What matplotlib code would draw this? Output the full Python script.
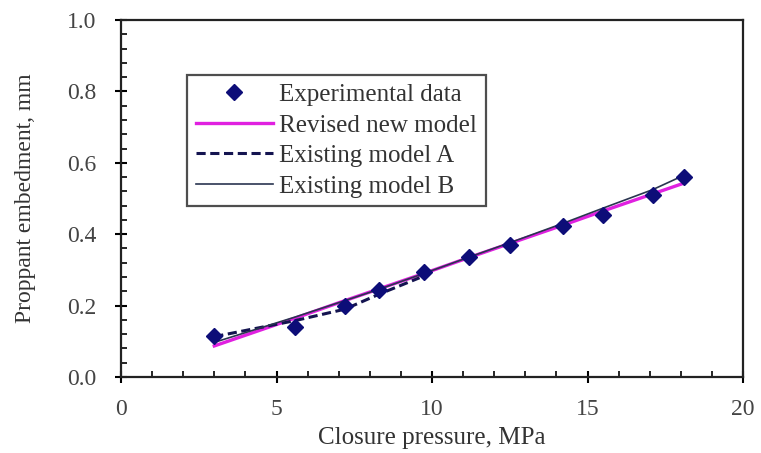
import matplotlib
matplotlib.use("Agg")
import matplotlib.pyplot as plt
from matplotlib.ticker import MultipleLocator

plt.rcParams['font.family'] = ['Liberation Serif', 'DejaVu Serif']

# measured embedment vs closure pressure
pressure = [3.0, 5.6, 7.2, 8.3, 9.74, 11.2, 12.5, 14.2, 15.5, 17.1, 18.1]
embed_exp = [0.115, 0.14, 0.199, 0.244, 0.294, 0.336, 0.37, 0.423, 0.454, 0.51, 0.56]

# model predictions at the same pressures
embed_revised = [0.087, 0.165, 0.214, 0.247, 0.29, 0.335, 0.374, 0.425, 0.465, 0.513, 0.543]
embed_model_b = [0.097, 0.168, 0.214, 0.246, 0.29, 0.336, 0.376, 0.43, 0.473, 0.525, 0.565]

pressure_a = [3.0, 5.6, 7.2, 8.3, 9.6]
embed_model_a = [0.113, 0.158, 0.19, 0.232, 0.278]

fig = plt.figure(figsize=(7.61, 4.53), dpi=100)
ax = fig.add_axes([121 / 761, 1 - 377 / 453, 622 / 761, 357 / 453])

ax.plot(pressure, embed_revised, color='#e020e0', lw=2.4, label='Revised new model', zorder=2)
ax.plot(pressure_a, embed_model_a, color='#141450', lw=2.2, ls=(0, (3, 1.5)),
        label='Existing model A', zorder=3)
ax.plot(pressure, embed_model_b, color='#2a3550', lw=1.2, label='Existing model B', zorder=3)
ax.plot(pressure, embed_exp, ls='none', marker='D', ms=8, color='#0d0d78',
        label='Experimental data', zorder=4)

ax.set_xlim(0, 20)
ax.set_ylim(0, 1.0)
ax.xaxis.set_major_locator(MultipleLocator(5))
ax.xaxis.set_minor_locator(MultipleLocator(1))
ax.yaxis.set_major_locator(MultipleLocator(0.2))
ax.yaxis.set_minor_locator(MultipleLocator(0.04))
ax.yaxis.set_major_formatter(plt.FormatStrFormatter('%.1f'))

ax.tick_params(which='major', direction='inout', length=8, width=1.5,
               labelsize=17, labelcolor='#444444')
ax.tick_params(axis='x', which='major', pad=12)
ax.tick_params(axis='y', which='major', pad=14)
ax.tick_params(which='minor', direction='in', length=4, width=1.2)
ax.tick_params(top=False, right=False, which='both')
for s in ax.spines.values():
    s.set_linewidth(1.6)
    s.set_color('#222222')

ax.set_xlabel('Closure pressure, MPa', fontsize=18, color='#333333', labelpad=5)
ax.set_ylabel('Proppant embedment, mm', fontsize=17, color='#333333', labelpad=22)

handles, labels = ax.get_legend_handles_labels()
order = [3, 0, 1, 2]
leg = ax.legend([handles[i] for i in order], [labels[i] for i in order],
                loc='upper left', bbox_to_anchor=(0.106, 0.846), borderaxespad=0,
                fontsize=18, frameon=True, fancybox=False, edgecolor='#222222',
                handlelength=3.1, handletextpad=0.25, labelspacing=0.32, borderpad=0.35)
leg.get_frame().set_linewidth(1.6)
for t in leg.get_texts():
    t.set_color('#333333')

fig.savefig('out.png', dpi=100)
